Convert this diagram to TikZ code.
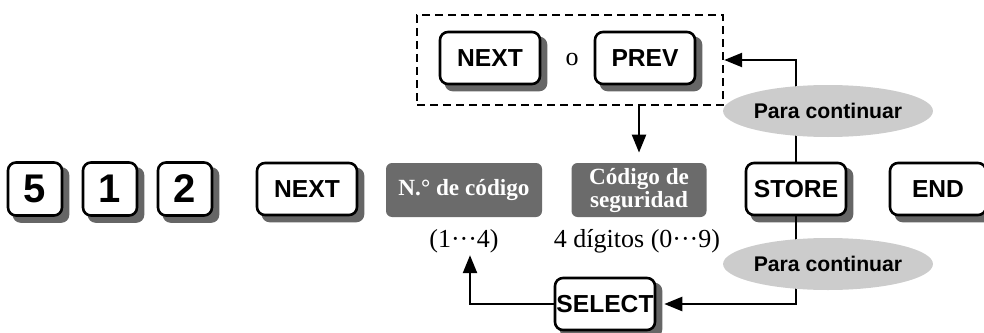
\documentclass[tikz,border=0pt]{standalone}
\usepackage{fontspec}
\setmainfont{Liberation Serif}
\newfontfamily\keyfont{Liberation Sans}
\usetikzlibrary{shapes.geometric, arrows.meta, positioning, backgrounds}

\begin{document}
\begin{tikzpicture}[x=0.5pt, y=-0.5pt,
        key/.style={rectangle, draw=black, line width=1.3pt, fill=white, rounded corners=4pt, minimum width=50pt, minimum height=26pt, inner sep=0pt, font=\keyfont\bfseries\fontsize{12.3}{13}\selectfont},
        digit/.style={key, minimum width=27pt, minimum height=26.5pt, font=\keyfont\bfseries\fontsize{20}{22}\selectfont},
        shade/.style={fill=black!60, rounded corners=4pt},
        param/.style={rectangle, fill=black!58, rounded corners=3pt, text=white, font=\bfseries\fontsize{11.6}{11.5}\selectfont, align=center, minimum height=27pt, inner sep=0pt},
        cond/.style={ellipse, fill=black!20, minimum width=83.5pt, minimum height=26pt, inner sep=0pt, font=\keyfont\bfseries\fontsize{10.6}{11}\selectfont},
        note/.style={font=\fontsize{13}{14}\selectfont, inner sep=1pt},
        arrow/.style={line width=1.2pt, -{Triangle[length=9pt, width=7pt]}}
    ]
    \useasboundingbox (0,0) rectangle (984,332);

    % Fila principal de teclas
    \node (k5)    [digit] at (35,189)  {5};
    \node (k1)    [digit] at (110,189) {1};
    \node (k2)    [digit] at (185,189) {2};
    \node (next)  [key]   at (307,189) {NEXT};
    \node (num)   [param, minimum width=78pt]   at (464,190) {N.° de código};
    \node (seg)   [param, minimum width=67.5pt] at (639,190) {Código de\\seguridad};
    \node (store) [key]   at (796,189) {STORE};
    \node (end)   [key, minimum width=48pt] at (938,189) {END};

    % Grupo NEXT o PREV
    \node (nxt)  [key]  at (490,58) {NEXT};
    \node (o)    [note] at (572,60) {o};
    \node (prev) [key]  at (645,58) {PREV};

    % Rangos y SELECT
    \node (rng)    [note] at (464,241) {(1···4)};
    \node (dig)    [note] at (637,241) {4 dígitos (0···9)};
    \node (select) [key]  at (605,304) {SELECT};

    % Sombras de las teclas y marco discontinuo
    \begin{scope}[on background layer]
        \foreach \k in {k5, k1, k2, next, store, end, nxt, prev, select}
            \fill [shade] ([xshift=3pt, yshift=-3pt]\k.south west) rectangle ([xshift=3pt, yshift=-3pt]\k.north east);
        \node (grp) [draw, line width=1.2pt, dash pattern=on 4pt off 2.5pt, minimum width=153pt, minimum height=45pt] at (570,60) {};
    \end{scope}

    % Conexiones
    \draw [arrow] (store.north) |- (grp.east);
    \draw [arrow, shorten >=5pt] (seg |- grp.south) -- (seg.north);
    \draw [arrow, shorten >=4pt] (store.south) |- (select.east);
    \draw [arrow] (select.west) -| ([xshift=3pt]rng.south);

    \node (cont1) [cond] at (828,111) {Para continuar};
    \node (cont2) [cond] at (828,264) {Para continuar};

\end{tikzpicture}
\end{document}
